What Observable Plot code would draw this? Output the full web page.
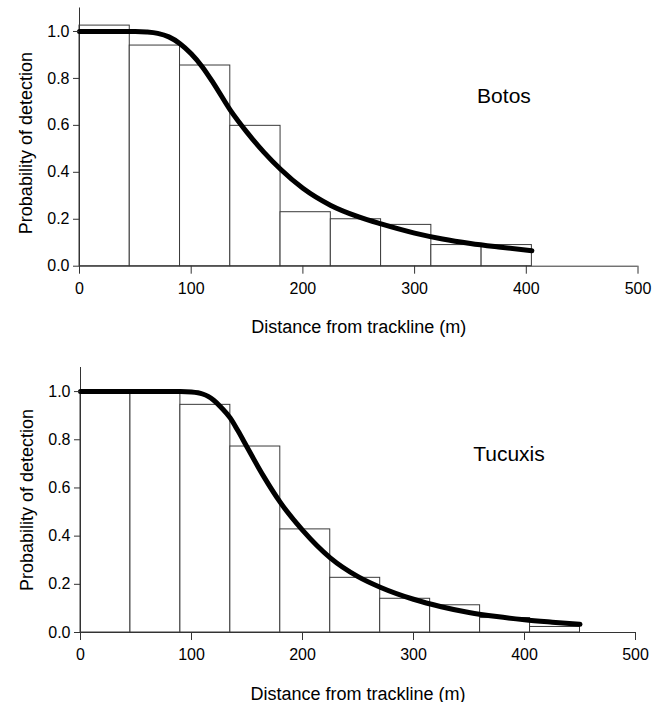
<!DOCTYPE html>
<html>
<head>
<meta charset="utf-8">
<script src="https://cdn.jsdelivr.net/npm/d3@7"></script>
<script src="https://cdn.jsdelivr.net/npm/@observablehq/plot@0.6"></script>
<style>
  body { margin: 0; background: #fff; font-family: "Liberation Sans", Arial, sans-serif; }
  #chart { width: 652px; }
  #chart svg { display: block; overflow: visible; }
</style>
</head>
<body>
<div id="chart"></div>
<script>
// ---- data ----
const binEdges = [0, 45, 90, 135, 180, 225, 270, 315, 360, 405, 450];
const xTicks = [0, 100, 200, 300, 400, 500];
const yTicks = [0, 0.2, 0.4, 0.6, 0.8, 1.0];
const xTitle = "Distance from trackline (m)";
const yTitle = "Probability of detection";

const botosName = "Botos";
const botosBars = [1.025, 0.94, 0.855, 0.598, 0.23, 0.2, 0.176, 0.09, 0.09];
const botosCurveX = [0, 30, 50, 60, 70, 80, 90, 100, 110, 120, 135, 150, 165, 180, 200, 225, 250, 270, 300, 325, 350, 375, 405];
const botosCurveY = [1.0, 1.0, 1.0, 0.998, 0.992, 0.977, 0.948, 0.905, 0.849, 0.779, 0.665, 0.57, 0.486, 0.413, 0.332, 0.259, 0.21, 0.18, 0.141, 0.116, 0.097, 0.082, 0.066];

const tucuxisName = "Tucuxis";
const tucuxisBars = [1.0, 1.0, 0.945, 0.772, 0.428, 0.227, 0.14, 0.113, 0.06, 0.023];
const tucuxisCurveX = [0, 50, 90, 100, 110, 115, 120, 127, 135, 142, 150, 165, 180, 200, 225, 250, 270, 300, 325, 350, 375, 400, 425, 450];
const tucuxisCurveY = [1.0, 1.0, 1.0, 0.998, 0.99, 0.98, 0.964, 0.933, 0.89, 0.836, 0.77, 0.648, 0.54, 0.425, 0.31, 0.232, 0.188, 0.138, 0.107, 0.083, 0.066, 0.053, 0.043, 0.034];

// ---- build ----
function panel(opts) {
  const bars = opts.bars.map((v, i) => ({x1: binEdges[i], x2: binEdges[i + 1], y: v}));
  const curve = opts.cx.map((x, i) => ({x, y: opts.cy[i]}));
  const font = "Liberation Sans, Arial, sans-serif";
  return Plot.plot({
    width: 652,
    height: opts.height,
    marginLeft: opts.ml,
    marginRight: opts.mr,
    marginTop: opts.mt,
    marginBottom: opts.mb,
    style: {fontFamily: font, fontSize: "16px", color: "#000", background: "#fff"},
    x: {domain: [0, 500]},
    y: {domain: [0, 1.1]},
    marks: [
      Plot.rect(bars, {x1: "x1", x2: "x2", y1: 0, y2: "y", fill: "white", stroke: "#3a3a3a", strokeWidth: 1}),
      Plot.ruleX([0], {stroke: "#333", strokeWidth: 1}),
      Plot.ruleY([0], {stroke: "#333", strokeWidth: 1}),
      Plot.line(curve, {x: "x", y: "y", stroke: "black", strokeWidth: 5, curve: "monotone-x", strokeLinecap: "round"}),
      Plot.axisX({ticks: xTicks, tickFormat: d => String(d), tickSize: 8, tickPadding: 8, fontSize: 16, label: null, stroke: "#333"}),
      Plot.axisY({ticks: yTicks, tickFormat: d3.format(".1f"), tickSize: 6, tickPadding: 4, fontSize: 16, label: null, stroke: "#333"}),
      Plot.text([xTitle], {frameAnchor: "bottom", textAnchor: "middle", lineAnchor: "bottom", dy: opts.xTitleDy, fontSize: 18, fill: "black"}),
      Plot.text([yTitle], {frameAnchor: "left", textAnchor: "middle", lineAnchor: "bottom", rotate: -90, dx: -48, dy: opts.yTitleDy, fontSize: 18, fill: "black"}),
      Plot.text([opts.name], {x: opts.labelX, y: opts.labelY, fontSize: 21, fill: "black", textAnchor: "middle"})
    ]
  });
}

const chart = document.getElementById("chart");
chart.append(panel({
  name: botosName, bars: botosBars, cx: botosCurveX, cy: botosCurveY,
  height: 340, ml: 79, mr: 14.5, mt: 7.5, mb: 74.3,
  xTitleDy: 66.5, yTitleDy: 6, labelX: 380, labelY: 0.723
}));
chart.append(panel({
  name: tucuxisName, bars: tucuxisBars, cx: tucuxisCurveX, cy: tucuxisCurveY,
  height: 362, ml: 80, mr: 17, mt: 27, mb: 70,
  xTitleDy: 67, yTitleDy: 0, labelX: 386, labelY: 0.739
}));
</script>
</body>
</html>
